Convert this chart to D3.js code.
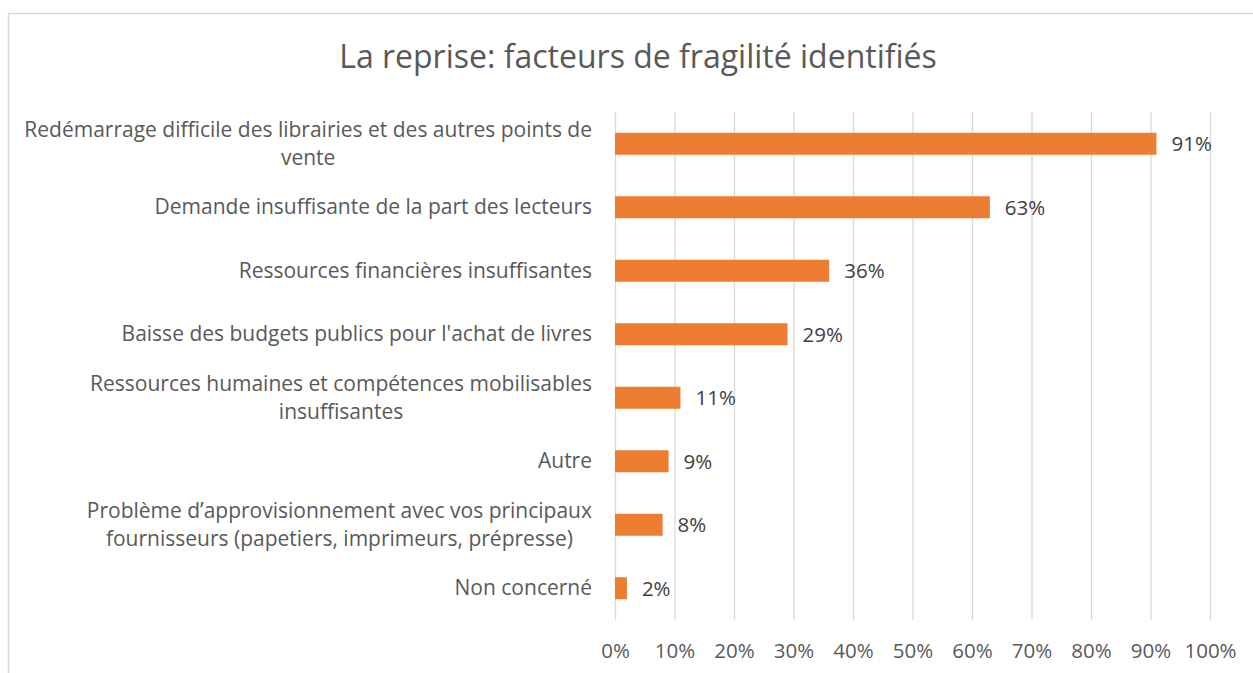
<!DOCTYPE html>
<html>
<head>
<meta charset="utf-8">
<script src="https://cdn.jsdelivr.net/npm/d3@7"></script>
<style>
  body { margin: 0; background: #fff; }
  text { font-family: "Open Sans", sans-serif; }
</style>
</head>
<body>
<div id="chart"></div>
<script>
// données
const categories = [
  "Redémarrage difficile des librairies et des autres points de\nvente",
  "Demande insuffisante de la part des lecteurs",
  "Ressources financières insuffisantes",
  "Baisse des budgets publics pour l'achat de livres",
  "Ressources humaines et compétences mobilisables\ninsuffisantes",
  "Autre",
  "Problème d’approvisionnement avec vos principaux\nfournisseurs (papetiers, imprimeurs, prépresse)",
  "Non concerné"
];
const values = [91, 63, 36, 29, 11, 9, 8, 2];
const xTicks = [0, 10, 20, 30, 40, 50, 60, 70, 80, 90, 100];
const title = "La reprise: facteurs de fragilité identifiés";

const W = 1253, H = 673;
const plotLeft = 615, plotRight = 1210, plotTop = 112, plotBottom = 620;
const labelSize = "21px", numSize = "20.5px";

const svg = d3.select("#chart").append("svg")
  .attr("width", W).attr("height", H);

// cadre du graphique
svg.append("rect")
  .attr("x", 8.5).attr("y", 13.5)
  .attr("width", 1262).attr("height", 700)
  .attr("fill", "none").attr("stroke", "#d9d9d9").attr("stroke-width", 1.5);

svg.append("text")
  .attr("x", 638).attr("y", 68)
  .attr("text-anchor", "middle")
  .style("font-size", "32px")
  .attr("fill", "#595959")
  .text(title);

const x = d3.scaleLinear().domain([0, 100]).range([plotLeft, plotRight]);
const y = d3.scaleBand().domain(categories).range([plotTop, plotBottom])
  .paddingInner(0.6535).paddingOuter(0.327);

// grille + étiquettes de l'axe
const gx = svg.append("g")
  .attr("transform", `translate(0,${plotBottom})`)
  .call(d3.axisBottom(x).tickValues(xTicks).tickSize(-(plotBottom - plotTop)).tickFormat(d => d + "%"));
gx.select(".domain").remove();
gx.selectAll("line").attr("stroke", "#d9d9d9").attr("stroke-width", 1.3);
gx.selectAll("text")
  .attr("y", 38).attr("dy", null)
  .attr("font-family", null).attr("font-size", null)
  .style("font-size", numSize)
  .attr("fill", "#595959");

svg.selectAll(".bar")
  .data(values)
  .enter()
  .append("rect")
  .attr("class", "bar")
  .attr("x", x(0))
  .attr("y", (d, i) => y(categories[i]))
  .attr("width", d => x(d) - x(0))
  .attr("height", y.bandwidth())
  .attr("fill", "#ed7d31");

svg.selectAll(".val")
  .data(values)
  .enter()
  .append("text")
  .attr("class", "val")
  .attr("x", d => x(d) + 15)
  .attr("y", (d, i) => y(categories[i]) + y.bandwidth() / 2 + 7.5)
  .style("font-size", numSize)
  .attr("fill", "#404040")
  .text(d => d + "%");

// étiquettes de catégories : bloc aligné à droite, lignes centrées entre elles
categories.forEach(c => {
  const lines = c.split("\n");
  const cy = y(c) + y.bandwidth() / 2;
  const t = svg.append("text")
    .style("font-size", labelSize)
    .attr("fill", "#595959")
    .attr("text-anchor", "middle");
  lines.forEach((l, i) => {
    t.append("tspan").attr("y", cy + 7 + (i - (lines.length - 1) / 2) * 28).text(l);
  });
  const w = d3.max(t.selectAll("tspan").nodes(), n => n.getComputedTextLength());
  t.selectAll("tspan").attr("x", 592 - w / 2);
});
</script>
</body>
</html>
